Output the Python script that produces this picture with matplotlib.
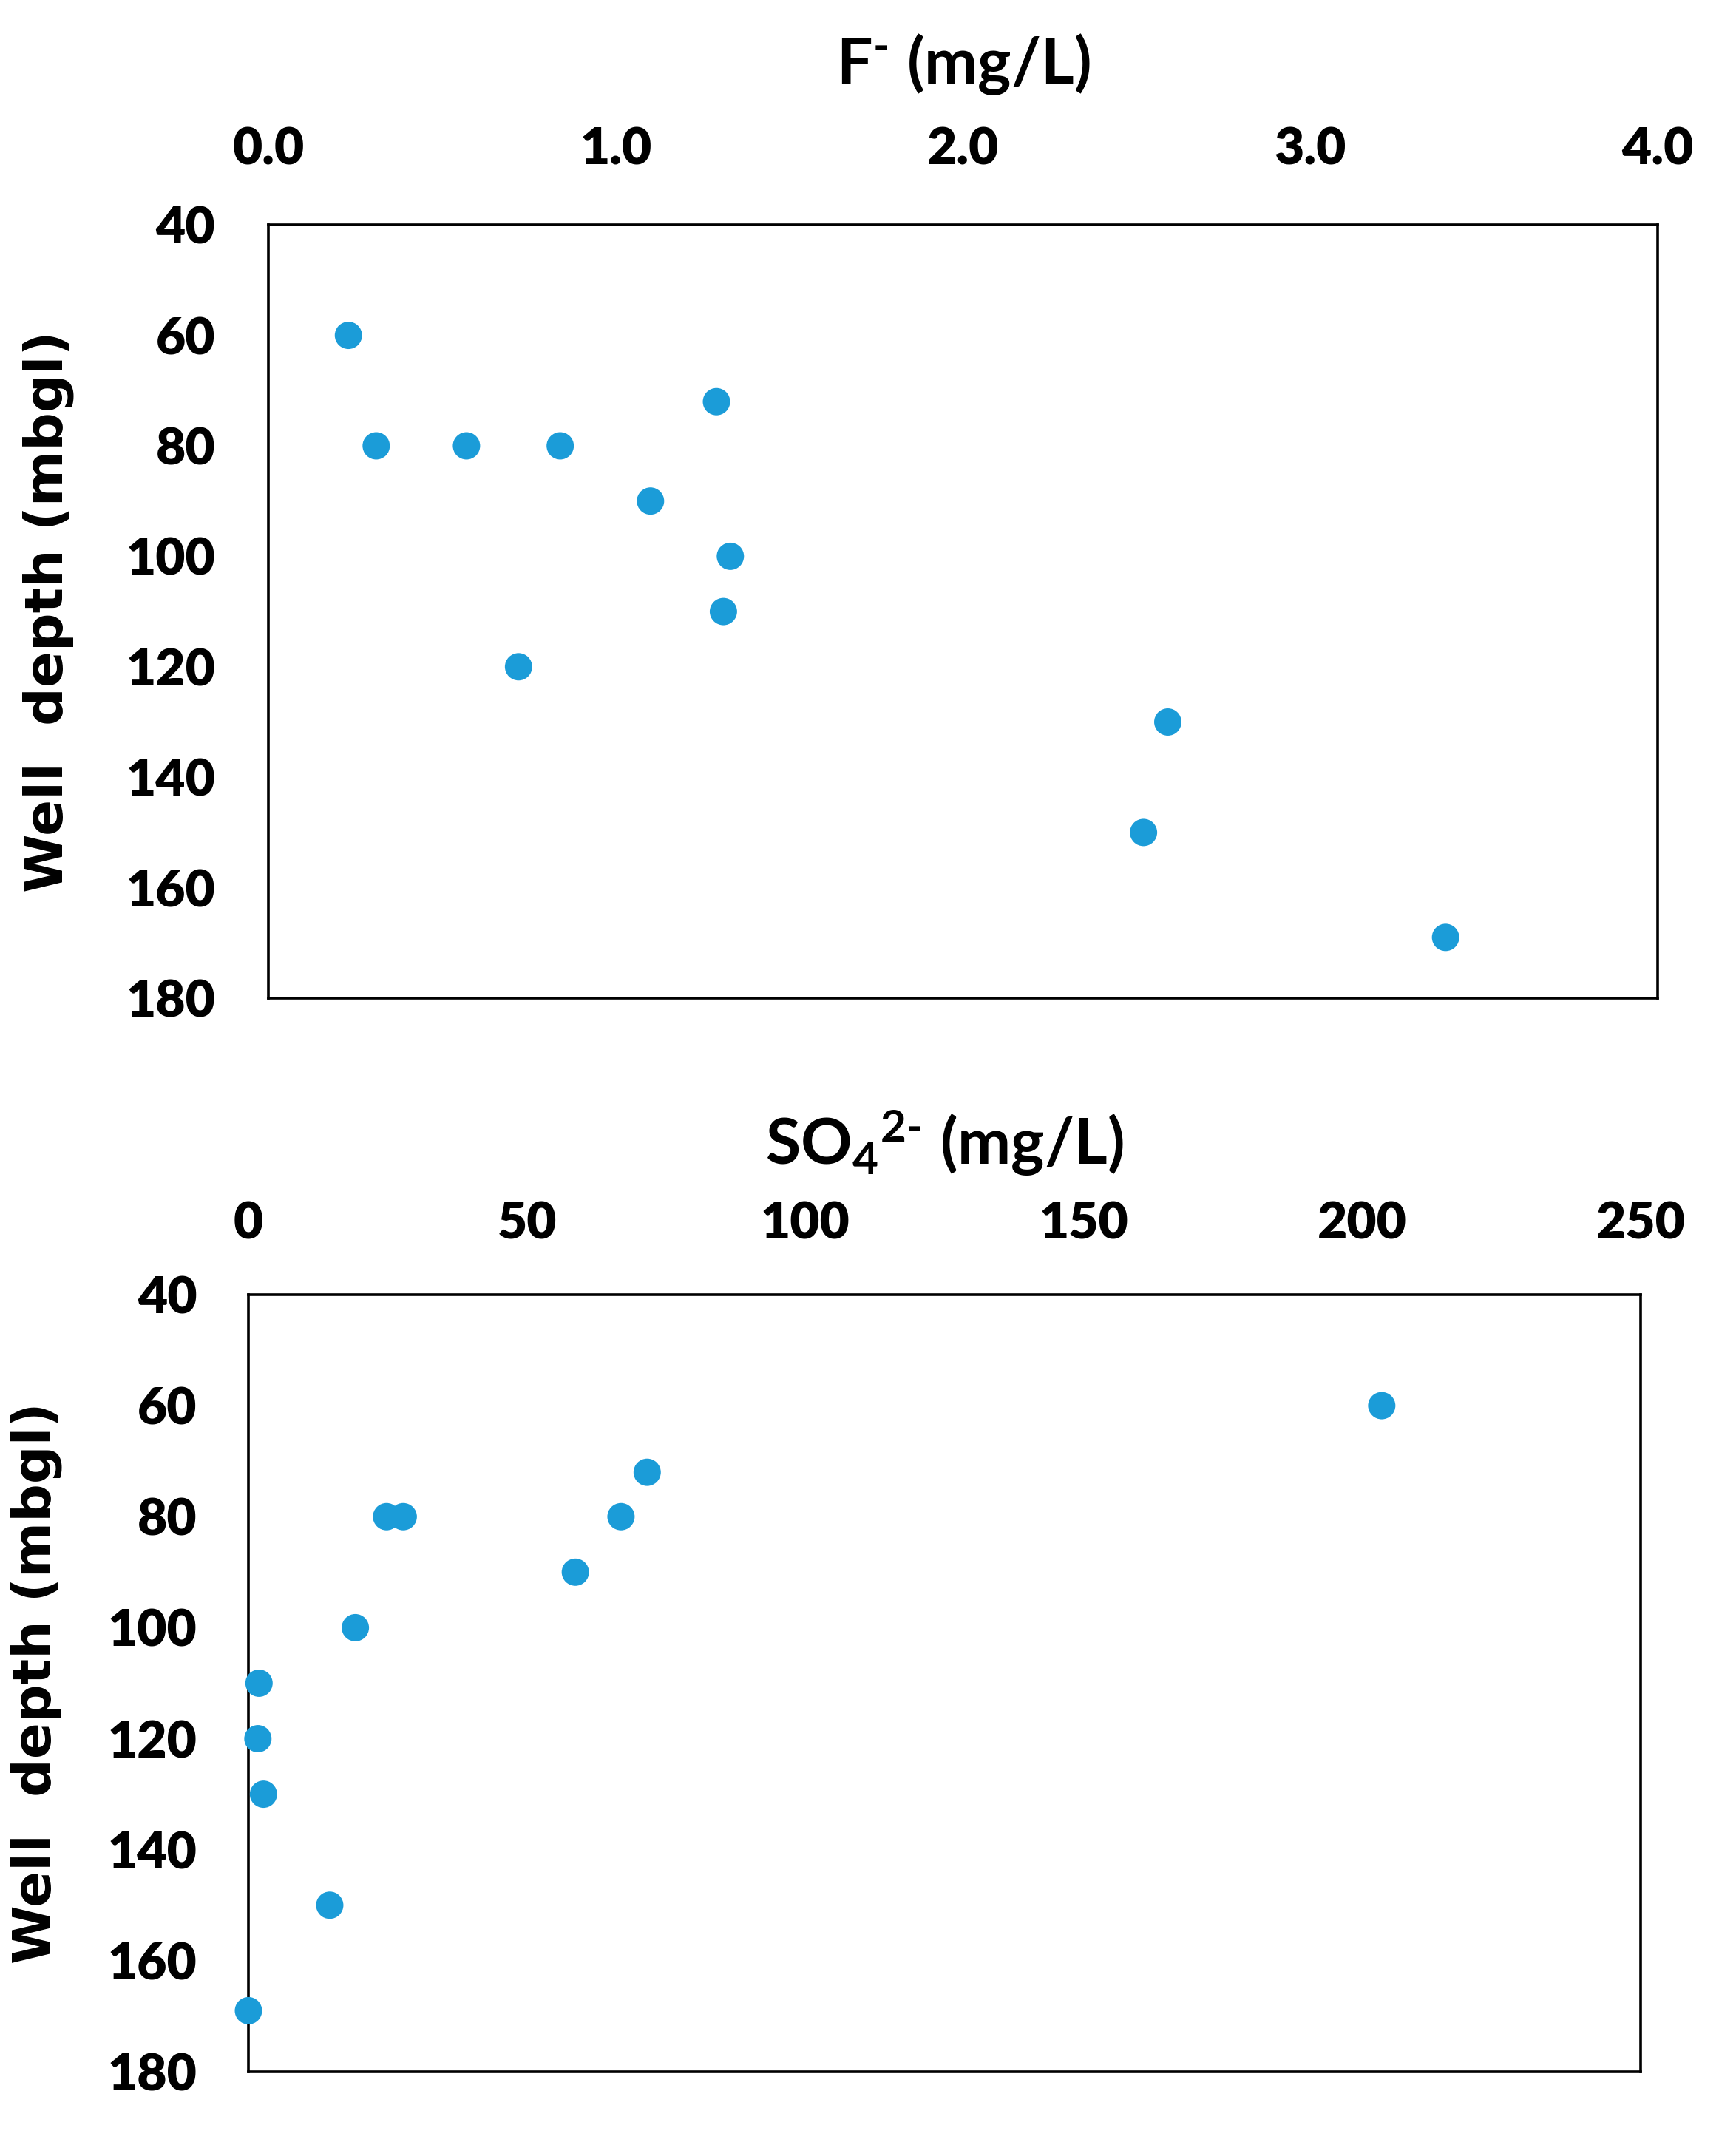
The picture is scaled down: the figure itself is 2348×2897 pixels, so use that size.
import matplotlib
matplotlib.use('Agg')
import matplotlib.pyplot as plt
from matplotlib.ticker import FormatStrFormatter

# well depth (mbgl) vs fluoride and sulphate
f_depth = [60, 72, 80, 80, 80, 90, 100, 110, 120, 130, 150, 169]
fluoride = [0.23, 1.29, 0.31, 0.57, 0.84, 1.10, 1.33, 1.31, 0.72, 2.59, 2.52, 3.39]

s_depth = [60, 72, 80, 80, 80, 90, 100, 110, 120, 130, 150, 169]
sulphate = [203.5, 71.6, 24.8, 27.8, 66.9, 58.7, 19.2, 1.9, 1.7, 2.7, 14.6, 0.0]

depth_ticks = [40, 60, 80, 100, 120, 140, 160, 180]
f_ticks = [0.0, 1.0, 2.0, 3.0, 4.0]
s_ticks = [0, 50, 100, 150, 200, 250]

col = '#1b9cd8'
tick_font = 'Lato'

plt.rcParams['mathtext.fontset'] = 'custom'
plt.rcParams['mathtext.rm'] = 'Lato:bold'
plt.rcParams['mathtext.bf'] = 'Lato:bold'
plt.rcParams['mathtext.it'] = 'Lato:bold'
plt.rcParams['mathtext.default'] = 'rm'

fig = plt.figure(figsize=(11.74, 14.485), dpi=200)

def panel(rect, x, y, xticks, xfmt, title, xpad, ypad, ylab_x, title_y):
    ax = fig.add_axes(rect)
    ax.scatter(x, y, s=13.3**2, color=col, edgecolors='none', zorder=3, clip_on=False)
    ax.set_xlim(xticks[0], xticks[-1])
    ax.set_ylim(180, 40)
    ax.set_xticks(xticks)
    ax.set_yticks(depth_ticks)
    ax.xaxis.set_major_formatter(FormatStrFormatter(xfmt))
    ax.xaxis.tick_top()
    ax.xaxis.set_label_position('top')
    ax.tick_params(axis='x', length=0, pad=xpad)
    ax.tick_params(axis='y', length=0, pad=ypad)
    for lab in ax.get_xticklabels() + ax.get_yticklabels():
        lab.set_fontfamily(tick_font)
        lab.set_fontweight('heavy')
        lab.set_fontsize(25)
    for sp in ax.spines.values():
        sp.set_linewidth(1.3)
        sp.set_color('black')
    ax.set_xlabel(title, fontsize=31, fontfamily=tick_font, fontweight='bold')
    ax.xaxis.set_label_coords(0.5, title_y)
    ax.set_ylabel('Well  depth (mbgl)', fontsize=26, fontfamily='DejaVu Sans',
                  fontweight='bold')
    ax.yaxis.set_label_coords(ylab_x, 0.5)
    return ax

ax1 = panel([0.1547, 0.534, 0.8, 0.361], fluoride, f_depth, f_ticks, '%.1f',
            r'F$^{\text{-}}$ (mg/L)', 25, 26, -0.14, 1.208)
ax2 = panel([0.1431, 0.0328, 0.802, 0.3628], sulphate, s_depth, s_ticks, '%d',
            r'SO$_{4}$$^{\text{2-}}$ (mg/L)', 23, 25, -0.134, 1.195)

ax1.xaxis.label.set_va('center')
ax2.xaxis.label.set_va('center')

fig.savefig('out.png', dpi=200)
